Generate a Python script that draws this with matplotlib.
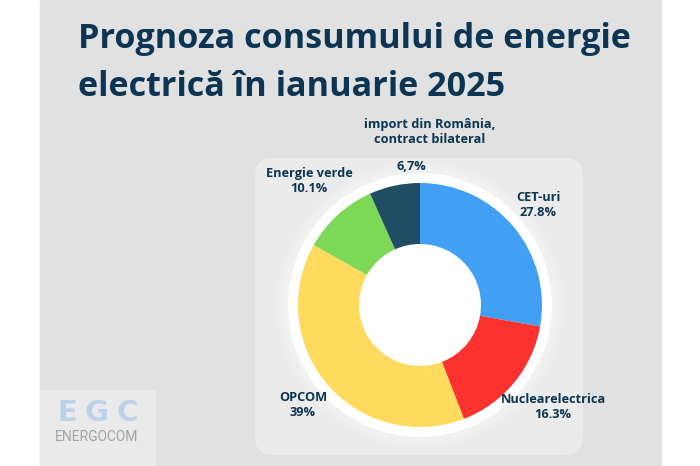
import matplotlib
matplotlib.use('Agg')
import matplotlib.pyplot as plt
from matplotlib.patches import Rectangle, FancyBboxPatch, Circle

# data
labels = ['CET-uri', 'Nuclearelectrica', 'OPCOM', 'Energie verde',
          'import din România,\ncontract bilateral']
shares = [27.8, 16.3, 39.0, 10.1, 6.7]
share_text = ['27.8%', '16.3%', '39%', '10.1%', '6,7%']
colors = ['#42a0f4', '#fe3131', '#ffda5c', '#7dd857', '#1f4d64']

title_lines = ['Prognoza consumului de energie', 'electrică în ianuarie 2025']
navy = '#0b3553'

W, H = 700, 466
fig = plt.figure(figsize=(7, 4.66), dpi=100)
ax = fig.add_axes([0, 0, 1, 1])

def Y(y):
    # pixel row from top -> data y
    return H - y

# background
ax.add_patch(Rectangle((40, 0), 621, H, color='#e1e1e1', zorder=0))
ax.add_patch(FancyBboxPatch((255, Y(455)), 328, 297,
                            boxstyle='round,pad=0,rounding_size=18',
                            fc='#ebebeb', ec='none', zorder=1))
# logo box
ax.add_patch(Rectangle((40, 0), 115, Y(390), color='#eaeaea', zorder=1))
for ch, x in zip('EGC', [67, 97, 127]):
    ax.text(x, Y(413), ch, ha='center', va='center', fontsize=21,
            fontweight='bold', color='#bad2ea', family='DejaVu Sans', zorder=2)
ax.text(97, Y(437), 'ENERGOCOM', ha='center', va='center', fontsize=10,
        color='#a3a3a3', family='Roboto', zorder=2)

cx, cy = 420, Y(305)
# soft halo + white ring
for r, a in [(144, 0.25), (140, 0.35), (136, 0.5)]:
    ax.add_patch(Circle((cx, cy), r, color='#f3f3f3', alpha=a, zorder=2, lw=0))
ax.add_patch(Circle((cx, cy), 132, color='white', zorder=2, lw=0))

wedges, _ = ax.pie(shares, colors=colors, startangle=90, counterclock=False,
                   center=(cx, cy), radius=122,
                   wedgeprops=dict(width=61, edgecolor='none'))
for w in wedges:
    w.set_zorder(3)

# title
for line, base in zip(title_lines, [48, 96]):
    ax.text(78, Y(base), line, ha='left', va='baseline', fontsize=24.6,
            fontweight='bold', color=navy, family='Open Sans', zorder=4)

# labels
lab_kw = dict(ha='center', va='center', fontsize=9.2, fontweight='bold',
              color=navy, family='Open Sans', linespacing=1.2, zorder=4)
ax.text(538, Y(205), labels[0] + '\n' + share_text[0], **lab_kw)
ax.text(553, Y(407), labels[1] + '\n' + share_text[1], **lab_kw)
ax.text(303, Y(405), labels[2] + '\n' + share_text[2], **lab_kw)
ax.text(309, Y(181), labels[3] + '\n' + share_text[3], **lab_kw)
ax.text(430, Y(132), labels[4], **lab_kw)
ax.text(411, Y(167), share_text[4], **lab_kw)

ax.set_xlim(0, W)
ax.set_ylim(0, H)
ax.set_aspect('auto')
ax.axis('off')

fig.savefig('out.png', dpi=100, facecolor='white')
